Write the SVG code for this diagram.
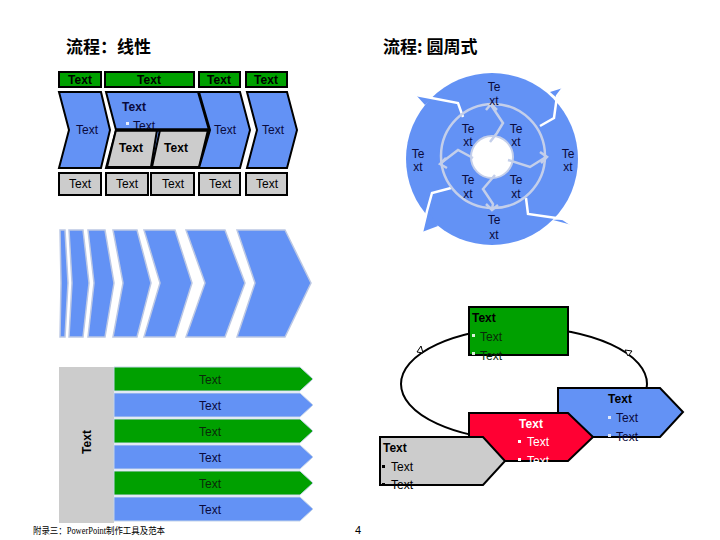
<svg xmlns="http://www.w3.org/2000/svg" width="720" height="540" viewBox="0 0 720 540">
<style>
.t{font-family:"Liberation Sans",Arial,sans-serif;font-size:12px}
.b{font-weight:bold}
.c{text-anchor:middle}
.nv{fill:#0a0a3c}
.blk{stroke:#000;stroke-width:2}
.grn{fill:#00a000}
.blu{fill:#6392f5}
.gry{fill:#cccccc}
.red{fill:#ff0033}
.ring{fill:none;stroke:#c4cfea;stroke-width:2.5;stroke-linejoin:miter}
.sep{fill:none;stroke:#fff;stroke-width:2.5}
.chev{fill:#6392f5;stroke:#bcc8e4;stroke-width:1.5}
.row{stroke:#c4d4ea;stroke-width:1}
.ttl{font-family:"Noto Sans CJK SC",sans-serif;font-size:17px;font-weight:bold}
</style>
<rect width="720" height="540" fill="#fff"/>

<!-- Titles -->
<text class="ttl" x="66" y="53">流程：线性</text>
<text class="ttl" x="383" y="53">流程: 圆周式</text>

<!-- Linear process -->
<g id="linear">
  <g id="hdr">
    <rect class="grn blk" x="59" y="72" width="42" height="15"/>
    <rect class="grn blk" x="105" y="72" width="89" height="15"/>
    <rect class="grn blk" x="199" y="72" width="41" height="15"/>
    <rect class="grn blk" x="246" y="72" width="41" height="15"/>
    <text class="t b c" x="80" y="84">Text</text>
    <text class="t b c" x="149" y="84">Text</text>
    <text class="t b c" x="219" y="84">Text</text>
    <text class="t b c" x="266" y="84">Text</text>
  </g>
  <g id="chev1">
    <polygon class="blu blk" points="59,92 101,92 110,130 101,168 59,168 69,130"/>
    <text class="t c nv" x="87" y="134">Text</text>
  </g>
  <g id="chev2">
    <polygon class="blu blk" points="106,92 198,92 209,130 198,168 106,168 116,130"/>
    <text class="t b c nv" x="134" y="111">Text</text>
    <rect x="126" y="122" width="3" height="3" fill="#e8eefc"/>
    <text class="t nv" x="133" y="130">Text</text>
    <polygon class="gry blk" points="116,130 157,130 151,167 107,167"/>
    <polygon class="gry blk" points="160,130 208,130 199,167 152,167"/>
    <line x1="116" y1="130" x2="209" y2="130" stroke="#000" stroke-width="3.5"/>
    <text class="t b c" x="131" y="152">Text</text>
    <text class="t b c" x="176" y="152">Text</text>
  </g>
  <g id="chev3">
    <polygon class="blu blk" points="199,92 240,92 250,130 240,168 199,168 210,130"/>
    <text class="t c nv" x="225" y="134">Text</text>
  </g>
  <g id="chev4">
    <polygon class="blu blk" points="247,92 287,92 297,130 287,168 247,168 257,130"/>
    <text class="t c nv" x="273" y="134">Text</text>
  </g>
  <g id="ftr">
    <rect class="gry blk" x="59" y="173" width="42" height="22"/>
    <rect class="gry blk" x="106" y="173" width="42" height="22"/>
    <rect class="gry blk" x="151" y="173" width="43" height="22"/>
    <rect class="gry blk" x="199" y="173" width="41" height="22"/>
    <rect class="gry blk" x="246" y="173" width="41" height="22"/>
    <text class="t c" x="80" y="188">Text</text>
    <text class="t c" x="127" y="188">Text</text>
    <text class="t c" x="173" y="188">Text</text>
    <text class="t c" x="220" y="188">Text</text>
    <text class="t c" x="267" y="188">Text</text>
  </g>
</g>

<!-- Circular process -->
<g id="circle">
  <circle cx="492" cy="159" r="86" fill="#6392f5"/>
  <polygon fill="#6392f5" points="416,95 433,98 425,105"/>
  <polygon fill="#6392f5" points="563,88 557,98 550,92"/>
  <polygon fill="#6392f5" points="572,225 562,219 553,220"/>
  <polygon fill="#6392f5" points="422,232 428,211 438,226"/>
  <polyline class="sep" points="416,95 458,103 463,117"/>
  <polyline class="sep" points="563,88 557,96 554,118 540,126"/>
  <polyline class="sep" points="526,198 528,214 563,219 572,225"/>
  <polyline class="sep" points="451,188 432,193 427,211 422,232"/>
  <circle class="ring" cx="493" cy="156" r="52"/>
  <circle cx="492" cy="157" r="21" fill="#fff" stroke="#c4cfea" stroke-width="2"/>
  <polyline class="ring" points="491,105 503,123 497,133 490,142"/>
  <polyline class="ring" points="486,110 491,104 497,110"/>
  <polyline class="ring" points="546,157 530,167 508,160"/>
  <polyline class="ring" points="540,152 547,157 541,163"/>
  <polyline class="ring" points="495,175 483,189 493,204 492,209"/>
  <polyline class="ring" points="486,204 492,210 498,205"/>
  <polyline class="ring" points="441,163 458,150 473,158"/>
  <polyline class="ring" points="446,158 440,164 447,168"/>
  <g class="t c nv">
    <text x="494" y="91">Te</text><text x="494" y="105">xt</text>
    <text x="468" y="133">Te</text><text x="468" y="146">xt</text>
    <text x="516" y="133">Te</text><text x="516" y="146">xt</text>
    <text x="418" y="158">Te</text><text x="418" y="171">xt</text>
    <text x="568" y="158">Te</text><text x="568" y="171">xt</text>
    <text x="468" y="184">Te</text><text x="468" y="198">xt</text>
    <text x="516" y="184">Te</text><text x="516" y="198">xt</text>
    <text x="494" y="224">Te</text><text x="494" y="239">xt</text>
  </g>
</g>

<!-- Chevron sequence -->
<g id="chevrons">
  <polygon class="chev" points="60,230 65,230 68,283 65,337 60,337 61,283"/>
  <polygon class="chev" points="69,230 83,230 89,283 83,337 69,337 72,283"/>
  <polygon class="chev" points="88,230 105,230 114,283 105,337 88,337 94,283"/>
  <polygon class="chev" points="113,230 137,230 151,283 137,337 113,337 123,283"/>
  <polygon class="chev" points="144,230 175,230 192,283 175,337 144,337 160,283"/>
  <polygon class="chev" points="186,230 225,230 245,283 225,337 186,337 205,283"/>
  <polygon class="chev" points="237,230 285,230 311,283 285,337 237,337 255,283"/>
</g>

<!-- Stacked arrows -->
<g id="stack">
  <rect x="59" y="367" width="55" height="156" fill="#cccccc"/>
  <text class="t b c" transform="translate(91,442) rotate(-90)">Text</text>
  <polygon class="grn row" points="114,367 300,367 313,379 300,391 114,391"/>
  <polygon class="blu row" points="114,393 300,393 313,405 300,417 114,417"/>
  <polygon class="grn row" points="114,419 300,419 313,431 300,443 114,443"/>
  <polygon class="blu row" points="114,445 300,445 313,457 300,469 114,469"/>
  <polygon class="grn row" points="114,471 300,471 313,483 300,495 114,495"/>
  <polygon class="blu row" points="114,497 300,497 313,509 300,521 114,521"/>
  <g class="t c">
    <text x="210" y="384" fill="#0a2a0a">Text</text>
    <text x="210" y="410" class="nv">Text</text>
    <text x="210" y="436" fill="#0a2a0a">Text</text>
    <text x="210" y="462" class="nv">Text</text>
    <text x="210" y="488" fill="#0a2a0a">Text</text>
    <text x="210" y="514" class="nv">Text</text>
  </g>
</g>

<!-- Cycle with boxes -->
<g id="connectors">
  <ellipse cx="524" cy="384" rx="123" ry="56" fill="none" stroke="#000" stroke-width="2"/>
  <polygon points="417,352 421,346 423,353" fill="#fff" stroke="#000" stroke-width="1"/>
  <polygon points="625,350 632,351 628,356" fill="#fff" stroke="#000" stroke-width="1"/>
</g>
<g id="greenbox">
  <rect class="grn blk" x="469" y="307" width="99" height="48"/>
  <text class="t b" x="472" y="322">Text</text>
  <rect x="472" y="334" width="3" height="3" fill="#d8f0d8"/>
  <text class="t" x="480" y="341" fill="#0a2a0a">Text</text>
  <rect x="472" y="352" width="3" height="3" fill="#d8f0d8"/>
  <text class="t" x="480" y="360" fill="#0a2a0a">Text</text>
</g>
<g id="bluebox">
  <polygon class="blu blk" points="558,388 660,388 683,412 660,437 558,437"/>
  <text class="t b c" x="620" y="403">Text</text>
  <rect x="608" y="416" width="3" height="3" fill="#dde6fa"/>
  <text class="t nv" x="616" y="422">Text</text>
  <rect x="608" y="434" width="3" height="3" fill="#dde6fa"/>
  <text class="t nv" x="616" y="441">Text</text>
</g>
<g id="redbox">
  <polygon class="red blk" points="469,413 568,413 593,437 568,461 469,461"/>
  <text class="t b c" x="531" y="428" fill="#fff">Text</text>
  <rect x="518" y="440" width="3" height="3" fill="#fff"/>
  <text class="t" x="527" y="446" fill="#fff">Text</text>
  <rect x="518" y="458" width="3" height="3" fill="#fff"/>
  <text class="t" x="527" y="465" fill="#fff">Text</text>
</g>
<g id="greybox">
  <polygon class="gry blk" points="380,437 483,437 505,461 483,485 380,485"/>
  <text class="t b" x="383" y="452">Text</text>
  <rect x="382" y="465" width="3" height="3" fill="#000"/>
  <text class="t" x="391" y="471">Text</text>
  <rect x="382" y="483" width="3" height="3" fill="#000"/>
  <text class="t" x="391" y="489">Text</text>
</g>

<!-- Footer -->
<text x="33" y="534" textLength="132" lengthAdjust="spacingAndGlyphs" style="font-family:'Liberation Serif','Noto Sans CJK SC',serif;font-size:9.5px">附录三：PowerPoint制作工具及范本</text>
<text x="358" y="534" text-anchor="middle" style="font-family:'Liberation Sans',sans-serif;font-size:11px">4</text>
</svg>
